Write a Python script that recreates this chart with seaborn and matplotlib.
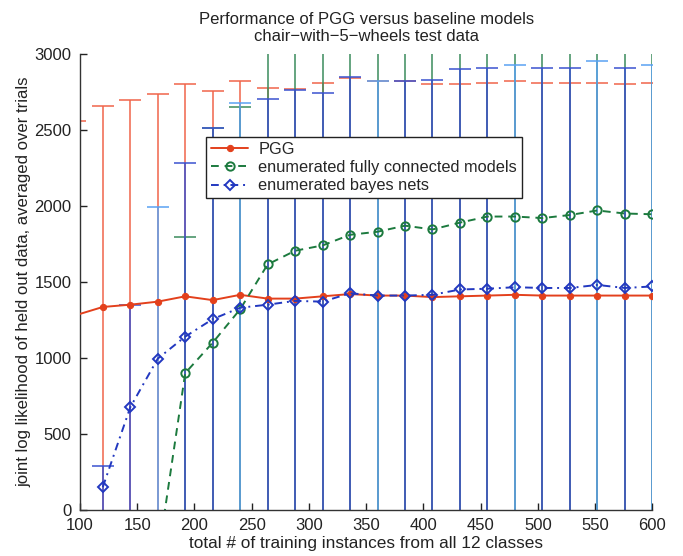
import numpy as np
import matplotlib
matplotlib.use("Agg")
import matplotlib.pyplot as plt
import seaborn as sns

# ---- data ----
x_pgg = [96, 120, 144, 168, 192, 216, 240, 264, 288, 312, 336, 360, 384, 408, 432, 456, 480, 504, 528, 552, 576, 600]
pgg = [1280, 1335, 1350, 1370, 1405, 1380, 1415, 1390, 1390, 1405, 1420, 1410, 1410, 1400, 1405, 1410, 1415, 1410, 1410, 1410, 1410, 1410]
pgg_err_up = [1280, 1325, 1345, 1365, 1400, 1375, 1410, 1385, 1380, 1405, 1420, 1410, 1410, 1400, 1400, 1400, 1405, 1400, 1400, 1400, 1395, 1400]
pgg_err_lo = [1320, 1375, 1390, 1410, 1445, 1420, 1455, 1430, 1430, 1445, 1460, 1450, 1450, 1440, 1445, 1450, 1455, 1450, 1450, 1450, 1450, 1450]

x_full = [168, 192, 216, 240, 264, 288, 312, 336, 360, 384, 408, 432, 456, 480, 504, 528, 552, 576, 600]
full = [-320, 900, 1100, 1320, 1615, 1705, 1740, 1810, 1830, 1870, 1845, 1890, 1930, 1930, 1920, 1940, 1970, 1950, 1945]
full_err_up = [200, 895, 1410, 1330, 1615, 1705, 1740, 1810, 1830, 1870, 1845, 1890, 1930, 1930, 1920, 1940, 1970, 1950, 1945]
full_err_lo = [200, 940, 1140, 1360, 1655, 1745, 1780, 1850, 1870, 1910, 1885, 1930, 1970, 1970, 1960, 1980, 2010, 1990, 1985]

x_bn = [120, 144, 168, 192, 216, 240, 264, 288, 312, 336, 360, 384, 408, 432, 456, 480, 504, 528, 552, 576, 600]
bn = [150, 675, 995, 1140, 1255, 1330, 1350, 1375, 1370, 1425, 1410, 1410, 1415, 1450, 1455, 1465, 1460, 1460, 1480, 1460, 1470]
bn_err_up = [140, 675, 995, 1145, 1255, 1345, 1355, 1385, 1370, 1425, 1410, 1410, 1415, 1450, 1455, 1460, 1450, 1450, 1475, 1450, 1460]
bn_err_lo = [190, 715, 1035, 1180, 1295, 1370, 1390, 1415, 1410, 1465, 1450, 1450, 1455, 1490, 1495, 1505, 1500, 1500, 1520, 1500, 1510]

labels = ["PGG", "enumerated fully connected models", "enumerated bayes nets"]
title = "Performance of PGG versus baseline models\nchair\u2212with\u22125\u2212wheels test data"
xlabel = "total # of training instances from all 12 classes"
ylabel = "joint log likelihood of held out data, averaged over trials"
xticks = [100, 150, 200, 250, 300, 350, 400, 450, 500, 550, 600]
yticks = [0, 500, 1000, 1500, 2000, 2500, 3000]

# ---- style ----
sns.set_theme(style="ticks")
plt.rcParams["font.family"] = ["Liberation Sans", "DejaVu Sans"]
plt.rcParams["axes.unicode_minus"] = True

RED = "#e3401c"
RED_EB = "#f0654a"
GREEN = "#1c7a3e"
GREEN_EB = "#3a8c5c"
BLUE = "#2238c0"
BLUE_EB_DARK = "#3a52cf"
BLUE_EB_LIGHT = "#5aa2f2"
light_bn_x = {168, 240, 360, 480, 552, 600}

fig = plt.figure(figsize=(6.83, 5.56), dpi=100)
ax = fig.add_axes([0.117, 0.083, 0.838, 0.820])

cap = 8
elw = 1.1
# error bars: red, then green, then blue
ax.errorbar(x_pgg, pgg, yerr=[pgg_err_lo, pgg_err_up], fmt="none", ecolor=RED_EB,
            elinewidth=elw, capsize=cap, capthick=elw, zorder=1)
ax.errorbar(x_full, full, yerr=[full_err_lo, full_err_up], fmt="none", ecolor=GREEN_EB,
            elinewidth=elw, capsize=cap, capthick=elw, zorder=1.1)
xb = np.array(x_bn); yb = np.array(bn, float)
eu = np.array(bn_err_up, float); el = np.array(bn_err_lo, float)
is_light = np.array([v in light_bn_x for v in x_bn])
for mask, col in ((~is_light, BLUE_EB_DARK), (is_light, BLUE_EB_LIGHT)):
    ax.errorbar(xb[mask], yb[mask], yerr=[el[mask], eu[mask]], fmt="none", ecolor=col,
                elinewidth=elw, capsize=cap, capthick=elw, zorder=1.2)

# lines
lw = 1.4
sns.lineplot(x=x_pgg, y=pgg, ax=ax, color=RED, linewidth=lw, marker="o", markersize=4.5,
             markeredgecolor=RED, markerfacecolor=RED, label=labels[0], zorder=3)
sns.lineplot(x=x_full, y=full, ax=ax, color=GREEN, linewidth=lw, linestyle=(0, (4, 3)),
             marker="o", markersize=6, markerfacecolor="none", markeredgecolor=GREEN,
             markeredgewidth=1.4, label=labels[1], zorder=3.1)
sns.lineplot(x=x_bn, y=bn, ax=ax, color=BLUE, linewidth=lw, linestyle=(0, (4, 2.5, 1, 2.5)),
             marker="D", markersize=5.2, markerfacecolor="none", markeredgecolor=BLUE,
             markeredgewidth=1.4, label=labels[2], zorder=3.2)

ax.set_xlim(100, 600)
ax.set_ylim(0, 3000)
ax.set_xticks(xticks)
ax.set_yticks(yticks)
ax.tick_params(direction="in", length=5, width=1, labelsize=12, colors="#222222")
ax.tick_params(axis="x", pad=6)
ax.tick_params(axis="y", pad=6)
for s in ("top", "right"):
    ax.spines[s].set_visible(False)
for s in ("left", "bottom"):
    ax.spines[s].set_color("#333333")
    ax.spines[s].set_linewidth(1.0)

ax.set_title(title, fontsize=12, color="#222222", pad=9, linespacing=1.2)
ax.set_xlabel(xlabel, fontsize=12.4, color="#222222", labelpad=2)
ax.set_ylabel(ylabel, fontsize=12.1, color="#222222", labelpad=2)

leg = ax.legend(loc="upper left", bbox_to_anchor=(0.22, 0.818), borderaxespad=0, fontsize=11.8,
                frameon=True, fancybox=False, framealpha=1, edgecolor="#222222",
                handlelength=2.3, handletextpad=0.6, borderpad=0.3, labelspacing=0.2)
leg.get_frame().set_linewidth(1.0)

fig.savefig("out.png", dpi=100)
